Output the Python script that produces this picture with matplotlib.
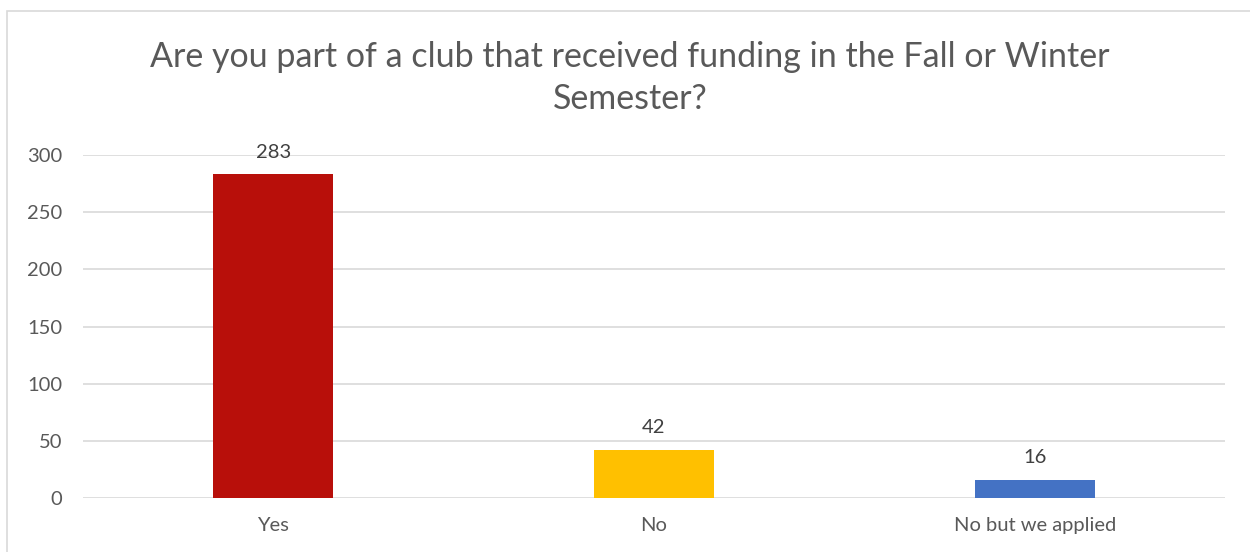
import matplotlib
matplotlib.use("Agg")
import matplotlib.pyplot as plt
from matplotlib.patches import Rectangle

categories = ["Yes", "No", "No but we applied"]
values = [283, 42, 16]
colors = ["#B80F0A", "#FFC000", "#4472C4"]
yticks = [0, 50, 100, 150, 200, 250, 300]
title = "Are you part of a club that received funding in the Fall or Winter\nSemester?"

plt.rcParams['font.family'] = ['Lato', 'DejaVu Sans']

W, H = 1250, 552
fig = plt.figure(figsize=(W / 100, H / 100), dpi=100)
fig.patch.set_facecolor("white")

# chart border
fig.patches.append(Rectangle((7 / W, -0.01), 1.02, 1 - 11 / H + 0.01, transform=fig.transFigure,
                             fill=False, edgecolor="#D9D9D9", linewidth=1.2, zorder=0))

ax = fig.add_axes([83 / W, 1 - 498 / H, (1225 - 83) / W, (498 - 155) / H])
x = list(range(len(categories)))
bars = ax.bar(x, values, width=0.315, color=colors, zorder=3)
ax.set_xlim(-0.5, len(categories) - 0.5)
ax.set_ylim(0, 300)
ax.set_yticks(yticks)
ax.set_xticks(x)
ax.set_xticklabels(categories)
ax.grid(axis="y", color="#D9D9D9", linewidth=1.2, zorder=0)
for s in ax.spines.values():
    s.set_visible(False)
ax.tick_params(axis="both", length=0, labelsize=14.5, colors="#595959", pad=15)
ax.tick_params(axis="x", pad=14)

for xi, v in zip(x, values):
    ax.annotate(str(v), (xi, v), xytext=(0, 10), textcoords="offset points",
                ha="center", va="bottom", fontsize=14.5, color="#404040")

fig.text(630 / W, 1 - 78 / H, title, ha="center", va="center", fontsize=24.5,
         color="#595959", linespacing=1.35)

fig.savefig("out.png", dpi=100)
